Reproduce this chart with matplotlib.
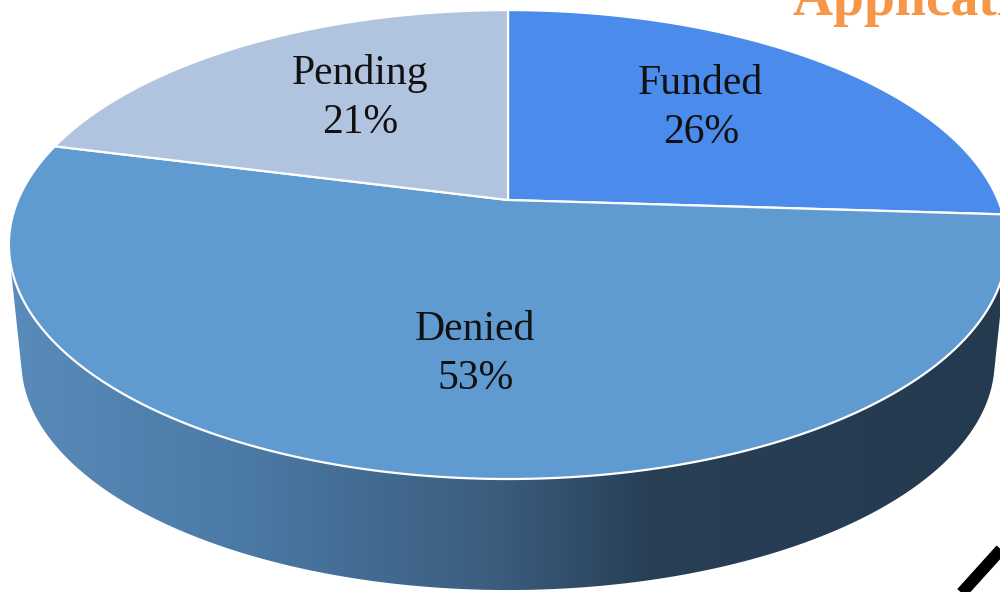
import numpy as np
import matplotlib
matplotlib.use('Agg')
import matplotlib.pyplot as plt
from matplotlib.patches import Polygon
from matplotlib.colors import LinearSegmentedColormap

# slices go clockwise from 12 o'clock
labels = ['Funded', 'Denied', 'Pending']
shares = [26, 53, 21]
top_colors = ['#4A8BEB', '#5F9BD0', '#B0C4DF']
title = 'Application Status'

# fake 3D: perspective-squashed disc
CX, CY = 508, 200
A, B, K = 490, 226, 0.19
DROP, SHRINK = 118, 0.975      # bottom disc: lower and a bit smaller
label_nudge = [(-6, -6), (19, 3), (17, -4)]   # px, like Excel places them


def proj(theta_deg, r=1.0, s=1.0, dy=0.0):
    t = np.radians(theta_deg)
    u, v = r * np.cos(t), r * np.sin(t)
    w = 1 + K * v
    return CX + s * A * u / w, CY + dy - s * B * v / w


def hull(pts):
    # monotone chain
    pts = sorted(map(tuple, pts))

    def cross(o, a, b):
        return (a[0] - o[0]) * (b[1] - o[1]) - (a[1] - o[1]) * (b[0] - o[0])

    lo, up = [], []
    for p in pts:
        while len(lo) >= 2 and cross(lo[-2], lo[-1], p) <= 0:
            lo.pop()
        lo.append(p)
    for p in reversed(pts):
        while len(up) >= 2 and cross(up[-2], up[-1], p) <= 0:
            up.pop()
        up.append(p)
    return np.array(lo[:-1] + up[:-1])


fig = plt.figure(figsize=(10, 5.92), dpi=100)
ax = fig.add_axes([0, 0, 1, 1])

# side wall = hull of top and bottom rims, top face goes over it
th = np.linspace(0, 360, 720, endpoint=False)
rim = np.vstack([np.column_stack(proj(th)),
                 np.column_stack(proj(th, s=SHRINK, dy=DROP))])
side = Polygon(hull(rim), closed=True, facecolor='none', edgecolor='none')
ax.add_patch(side)

side_cmap = LinearSegmentedColormap.from_list('side', [
    (0.0, '#5A8CBC'), (0.25, '#4A79A4'), (0.5, '#3B5C7D'),
    (0.65, '#283F56'), (1.0, '#243A4F')])
grad = np.linspace(0, 1, 512)[None, :]
img = ax.imshow(grad, extent=(0, 1000, 592, 0), cmap=side_cmap, aspect='auto', zorder=1)
img.set_clip_path(side)

# top faces
start = 90.0
for lab, val, col, (nx, ny) in zip(labels, shares, top_colors, label_nudge):
    span = 360.0 * val / sum(shares)
    end = start - span
    th = np.linspace(start, end, 200)
    px, py = proj(th)
    pts = np.column_stack([np.r_[CX, px], np.r_[CY, py]])
    ax.add_patch(Polygon(pts, closed=True, facecolor=col, edgecolor='white',
                         lw=1.6, joinstyle='round', zorder=2))
    lx, ly = proj(start - span / 2, 0.6)
    ax.text(lx + nx, ly + ny, f'{lab}\n{val}%', ha='center', va='center', fontsize=30,
            family='Liberation Serif', color='#111111', linespacing=1.35, zorder=3)
    start = end

# bits of the surrounding slide
ax.plot([958, 1010], [597, 539.5], color='black', lw=8.5, solid_capstyle='butt', zorder=4)
fig.text(0.793, 1 - 15 / 592, title, ha='left', va='baseline', fontsize=40,
         weight='bold', color='#F79646', family='Liberation Serif')

ax.set_xlim(0, 1000)
ax.set_ylim(592, 0)
ax.axis('off')
fig.savefig('out.png', dpi=100, facecolor='white')
